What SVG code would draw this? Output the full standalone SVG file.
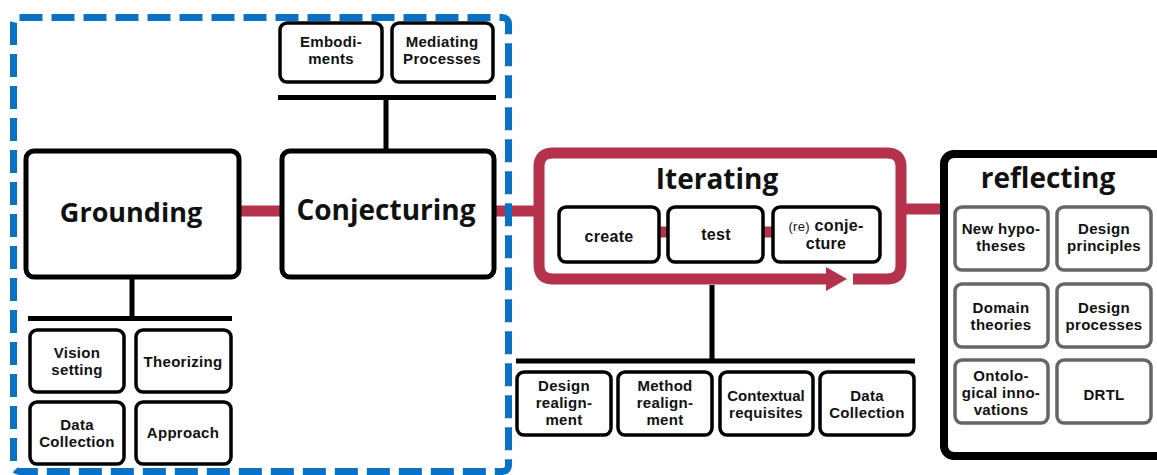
<svg xmlns="http://www.w3.org/2000/svg" width="1157" height="475" viewBox="0 0 1157 475">
<style>
text{font-family:"Open Sans","Noto Sans","DejaVu Sans",sans-serif;font-weight:700;fill:#111;text-anchor:middle}
.big{font-size:27px}
.sm{font-family:"Liberation Sans",Arial,sans-serif;font-size:15px;letter-spacing:0.3px}
.main{fill:#fff;stroke:#000;stroke-width:5}
.box{fill:#fff;stroke:#000;stroke-width:3.5}
.gbox{fill:#fff;stroke:#666;stroke-width:3.5}
.bar{stroke:#000;stroke-width:5;fill:none}
.red{stroke:#b5324d;stroke-width:11;fill:none}
</style>
<rect width="1157" height="475" fill="#fff"/>
<g id="connectors">
<line class="red" x1="240" y1="211" x2="282" y2="211"/>
<line class="red" x1="495" y1="211" x2="540" y2="211"/>
<line class="red" x1="900" y1="209" x2="942" y2="209"/>
<line class="red" x1="658" y1="232" x2="669" y2="232"/>
<line class="red" x1="762" y1="232" x2="774" y2="232"/>
<path class="bar" d="M278,97.5 H496 M386,97.5 V150"/>
<path class="bar" d="M28,318.5 H232 M132,278 V318.5"/>
<path class="bar" d="M516,361 H915 M712,285 V361"/>
</g>
<g id="embodiments"><rect class="box" x="280" y="23" width="102" height="59" rx="7"/><text class="sm" x="331" y="47">Embodi-</text><text class="sm" x="331" y="64">ments</text></g>
<g id="mediating"><rect class="box" x="392" y="23" width="101" height="59" rx="7"/><text class="sm" x="442" y="47">Mediating</text><text class="sm" x="442" y="64">Processes</text></g>
<g id="grounding"><rect class="main" x="26" y="151" width="213" height="126" rx="8"/><text class="big" x="131" y="222">Grounding</text></g>
<g id="conjecturing"><rect class="main" x="282" y="151" width="212" height="126" rx="8"/><text class="big" x="386" y="220" style="font-size:28px">Conjecturing</text></g>
<g id="vision"><rect class="box" x="30" y="330" width="94" height="62" rx="7"/><text class="sm" x="77" y="358">Vision</text><text class="sm" x="77" y="375">setting</text></g>
<g id="theorizing"><rect class="box" x="136" y="330" width="95" height="62" rx="7"/><text class="sm" x="183" y="367">Theorizing</text></g>
<g id="datacollection1"><rect class="box" x="30" y="402" width="94" height="62" rx="7"/><text class="sm" x="77" y="430">Data</text><text class="sm" x="77" y="447">Collection</text></g>
<g id="approach"><rect class="box" x="136" y="402" width="95" height="62" rx="7"/><text class="sm" x="183" y="438">Approach</text></g>
<g id="iterating">
<path class="red" d="M853,279 H887 Q901,279 901,265 V167 Q901,153 887,153 H553 Q539,153 539,167 V265 Q539,279 553,279 H830"/>
<polygon points="826,267 847,279 826,291" fill="#b5324d"/>
<text class="big" x="717" y="189" style="font-size:28px">Iterating</text>
</g>
<g id="create"><rect class="box" x="559" y="207" width="100" height="55" rx="7"/><text class="sm" x="609" y="242" style="font-size:16px">create</text></g>
<g id="test"><rect class="box" x="668" y="207" width="95" height="55" rx="7"/><text class="sm" x="716" y="240" style="font-size:16px">test</text></g>
<g id="reconjecture"><rect class="box" x="773" y="207" width="107" height="55" rx="7"/><text class="sm" x="826" y="231" style="font-size:16px"><tspan style="font-size:13px;font-weight:400">(re)</tspan> conje-</text><text class="sm" x="826" y="249" style="font-size:16px">cture</text></g>
<g id="designrealignment"><rect class="box" x="517" y="372" width="94" height="63" rx="7"/><text class="sm" x="564" y="391">Design</text><text class="sm" x="564" y="408">realign-</text><text class="sm" x="564" y="425">ment</text></g>
<g id="methodrealignment"><rect class="box" x="618" y="372" width="94" height="63" rx="7"/><text class="sm" x="665" y="391">Method</text><text class="sm" x="665" y="408">realign-</text><text class="sm" x="665" y="425">ment</text></g>
<g id="contextual"><rect class="box" x="720" y="372" width="93" height="63" rx="7"/><text class="sm" x="766" y="401" style="letter-spacing:0px">Contextual</text><text class="sm" x="766" y="418">requisites</text></g>
<g id="datacollection2"><rect class="box" x="820" y="372" width="94" height="63" rx="7"/><text class="sm" x="867" y="401">Data</text><text class="sm" x="867" y="418">Collection</text></g>
<g id="reflecting">
<rect x="944" y="154" width="226" height="302" rx="10" fill="#fff" stroke="#000" stroke-width="8"/>
<text x="1048" y="188" style="font-size:28px">reflecting</text>
</g>
<g id="newhypotheses"><rect class="gbox" x="955" y="207" width="93" height="63" rx="7"/><text class="sm" x="1001" y="234">New hypo-</text><text class="sm" x="1001" y="251">theses</text></g>
<g id="designprinciples"><rect class="gbox" x="1057" y="207" width="94" height="63" rx="7"/><text class="sm" x="1104" y="234">Design</text><text class="sm" x="1104" y="251">principles</text></g>
<g id="domaintheories"><rect class="gbox" x="955" y="284" width="93" height="63" rx="7"/><text class="sm" x="1001" y="313">Domain</text><text class="sm" x="1001" y="330">theories</text></g>
<g id="designprocesses"><rect class="gbox" x="1057" y="284" width="94" height="63" rx="7"/><text class="sm" x="1104" y="313">Design</text><text class="sm" x="1104" y="330">processes</text></g>
<g id="ontological"><rect class="gbox" x="955" y="360" width="93" height="63" rx="7"/><text class="sm" x="1001" y="381">Ontolo-</text><text class="sm" x="1001" y="398">gical inno-</text><text class="sm" x="1001" y="415">vations</text></g>
<g id="drtl"><rect class="gbox" x="1057" y="360" width="94" height="63" rx="7"/><text class="sm" x="1104" y="400">DRTL</text></g>
<g id="region">
<rect x="13.5" y="17.5" width="495" height="454" rx="6" fill="none" stroke="#0a72c4" stroke-width="7" stroke-dasharray="23 9"/>
</g>
</svg>
